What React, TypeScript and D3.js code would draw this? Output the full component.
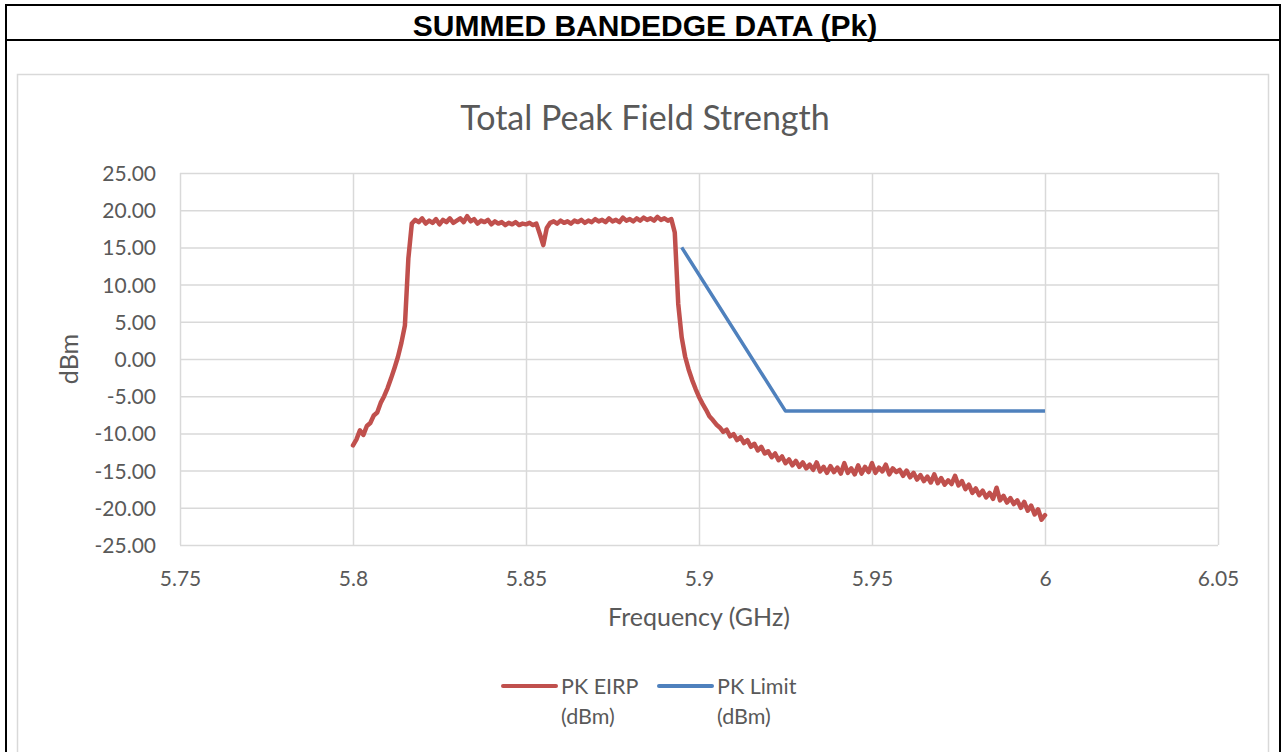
import React, { useEffect, useRef } from 'react';
import * as d3 from 'd3';

// PK EIRP trace, every 1 MHz from 5.800 GHz to 6.000 GHz
const eirpStartGHz = 5.8;
const eirpStepGHz = 0.001;
const eirpDbm = [
  -11.6, -10.8, -9.6, -10.2, -9.0, -8.6, -7.6, -7.2, -5.9, -5.0, // 5.800
  -3.9, -2.6, -1.2, 0.3, 2.2, 4.5, 13.5, 18.2, 18.7, 18.4, // 5.810
  18.9, 18.2, 18.6, 18.3, 18.8, 18.1, 18.7, 18.4, 18.9, 18.3, // 5.820
  18.6, 18.9, 18.4, 19.2, 18.5, 18.8, 18.2, 18.6, 18.4, 18.7, // 5.830
  18.1, 18.5, 18.2, 18.4, 18.0, 18.3, 18.1, 18.4, 18.0, 18.2, // 5.840
  18.1, 18.3, 18.0, 18.2, 16.8, 15.3, 17.6, 18.3, 18.5, 18.2, // 5.850
  18.6, 18.3, 18.5, 18.2, 18.6, 18.4, 18.7, 18.3, 18.6, 18.4, // 5.860
  18.8, 18.5, 18.7, 18.4, 18.9, 18.5, 18.7, 18.4, 19.0, 18.6, // 5.870
  18.8, 18.5, 18.9, 18.6, 19.0, 18.7, 18.9, 18.6, 19.1, 18.7, // 5.880
  18.9, 18.6, 18.8, 17.0, 7.4, 2.9, 0.3, -1.4, -2.8, -4.0, // 5.890
  -5.1, -6.0, -6.8, -7.7, -8.2, -8.8, -9.2, -9.8, -9.5, -10.4, // 5.900
  -10.1, -10.9, -10.5, -11.3, -10.9, -11.8, -11.4, -12.3, -11.8, -12.7, // 5.910
  -12.4, -13.2, -12.7, -13.6, -13.1, -14.0, -13.5, -14.3, -13.7, -14.5, // 5.920
  -13.9, -14.7, -14.2, -14.9, -13.9, -15.1, -14.5, -15.3, -14.4, -15.2, // 5.930
  -14.6, -15.4, -14.0, -15.3, -14.7, -15.5, -14.3, -15.4, -14.5, -15.2, // 5.940
  -14.0, -15.3, -14.6, -15.1, -14.2, -15.5, -14.7, -15.2, -14.9, -15.7, // 5.950
  -15.0, -15.9, -15.3, -16.2, -15.6, -16.4, -15.8, -16.6, -15.5, -16.7, // 5.960
  -16.0, -16.9, -16.3, -16.8, -15.7, -17.0, -16.4, -17.5, -16.9, -18.0, // 5.970
  -17.4, -18.3, -17.7, -18.6, -18.0, -18.8, -17.3, -19.0, -18.4, -19.3, // 5.980
  -18.7, -19.5, -19.0, -20.0, -19.2, -20.4, -19.7, -20.9, -20.2, -21.6, // 5.990
  -21.0, // 6.000
];

// PK Limit corner points
const limitGHz = [5.895, 5.925, 6.0];
const limitDbm = [15, -7, -7];

const xTicks = [5.75, 5.8, 5.85, 5.9, 5.95, 6, 6.05];
const yTicks = [-25, -20, -15, -10, -5, 0, 5, 10, 15, 20, 25];
const seriesNames = [['PK EIRP', '(dBm)'], ['PK Limit', '(dBm)']];

const W = 1283;
const H = 752;
const plot = { left: 180, right: 1218, top: 173, bottom: 545 };
const colors = ['#C0504D', '#4F81BD'];
const textGray = '#595959';
const gridGray = '#d9d9d9';
const font = 'Lato, "Open Sans", sans-serif';

const App: React.FC = () => {
  const ref = useRef<SVGSVGElement>(null);

  useEffect(() => {
    const svg = d3.select(ref.current);
    svg.selectAll('*').remove();

    svg.append('rect').attr('width', W).attr('height', H).attr('fill', '#fff');

    // header cell
    svg.append('text')
      .attr('x', 645)
      .attr('y', 36)
      .attr('text-anchor', 'middle')
      .attr('font-family', '"Liberation Sans", Arial, sans-serif')
      .attr('font-weight', 'bold')
      .attr('font-size', 30)
      .attr('fill', '#000')
      .text('SUMMED BANDEDGE DATA (Pk)');

    // chart frame
    svg.append('rect')
      .attr('x', 17.5)
      .attr('y', 74.5)
      .attr('width', 1251)
      .attr('height', 720)
      .attr('fill', '#fff')
      .attr('stroke', gridGray)
      .attr('stroke-width', 1.5);

    // table borders
    const border = svg.append('g').attr('stroke', '#000').attr('stroke-width', 2);
    border.append('line').attr('x1', 5).attr('x2', 1281).attr('y1', 5).attr('y2', 5);
    border.append('line').attr('x1', 5).attr('x2', 1281).attr('y1', 40).attr('y2', 40);
    border.append('line').attr('x1', 6).attr('x2', 6).attr('y1', 4).attr('y2', H);
    border.append('line').attr('x1', 1280).attr('x2', 1280).attr('y1', 4).attr('y2', H);

    const x = d3.scaleLinear().domain([5.75, 6.05]).range([plot.left, plot.right]);
    const y = d3.scaleLinear().domain([-25, 25]).range([plot.bottom, plot.top]);

    // y axis + horizontal grid
    const gy = svg.append('g')
      .attr('transform', `translate(${plot.left},0)`)
      .call(
        d3.axisLeft(y)
          .tickValues(yTicks)
          .tickSize(-(plot.right - plot.left))
          .tickPadding(24)
          .tickFormat(d => (+d).toFixed(2))
      );
    gy.select('.domain').remove();
    gy.selectAll('.tick line').attr('stroke', gridGray).attr('stroke-width', 1.5);
    gy.selectAll('.tick text')
      .attr('fill', textGray)
      .attr('font-family', font)
      .attr('font-size', 21)
      .attr('dy', '0.36em');

    // x axis + vertical grid
    const gx = svg.append('g')
      .attr('transform', `translate(0,${plot.bottom})`)
      .call(
        d3.axisBottom(x)
          .tickValues(xTicks)
          .tickSize(-(plot.bottom - plot.top))
          .tickFormat(d => String(+d))
      );
    gx.select('.domain').remove();
    gx.selectAll('.tick line').attr('stroke', gridGray).attr('stroke-width', 1.5);
    gx.selectAll('.tick text')
      .attr('fill', textGray)
      .attr('font-family', font)
      .attr('font-size', 21)
      .attr('y', 33)
      .attr('dy', '0.36em');

    // title
    svg.append('text')
      .attr('x', 645)
      .attr('y', 118)
      .attr('dy', '0.36em')
      .attr('text-anchor', 'middle')
      .attr('font-family', font)
      .attr('font-size', 34)
      .attr('fill', textGray)
      .text('Total Peak Field Strength');

    // axis titles
    svg.append('text')
      .attr('x', (plot.left + plot.right) / 2)
      .attr('y', 617)
      .attr('dy', '0.36em')
      .attr('text-anchor', 'middle')
      .attr('font-family', font)
      .attr('font-size', 25)
      .attr('fill', textGray)
      .text('Frequency (GHz)');

    svg.append('text')
      .attr('transform', `translate(69,${(plot.top + plot.bottom) / 2}) rotate(-90)`)
      .attr('dy', '0.36em')
      .attr('text-anchor', 'middle')
      .attr('font-family', font)
      .attr('font-size', 25)
      .attr('fill', textGray)
      .text('dBm');

    // series
    const eirp = eirpDbm.map((v, i) => ({ f: eirpStartGHz + i * eirpStepGHz, v }));
    const limit = limitGHz.map((f, i) => ({ f, v: limitDbm[i] }));
    const line = d3.line<{ f: number; v: number }>()
      .x(d => x(d.f))
      .y(d => y(d.v));

    svg.append('path')
      .datum(eirp)
      .attr('fill', 'none')
      .attr('stroke', colors[0])
      .attr('stroke-width', 4.5)
      .attr('stroke-linejoin', 'round')
      .attr('stroke-linecap', 'round')
      .attr('d', line);

    svg.append('path')
      .datum(limit)
      .attr('fill', 'none')
      .attr('stroke', colors[1])
      .attr('stroke-width', 3.5)
      .attr('stroke-linejoin', 'round')
      .attr('d', line);

    // legend
    const legendX = [503, 659];
    seriesNames.forEach((lines, i) => {
      const g = svg.append('g').attr('transform', `translate(${legendX[i]},686)`);
      g.append('line')
        .attr('x1', 0).attr('x2', 53)
        .attr('stroke', colors[i])
        .attr('stroke-width', 4)
        .attr('stroke-linecap', 'round');
      lines.forEach((t, j) => {
        g.append('text')
          .attr('x', 58)
          .attr('y', j * 30)
          .attr('dy', '0.36em')
          .attr('font-family', font)
          .attr('font-size', 21.5)
          .attr('fill', textGray)
          .text(t);
      });
    });
  }, []);

  return (
    <svg
      ref={ref}
      width={W}
      height={H}
      style={{ position: 'absolute', left: 0, top: 0 }}
    />
  );
};

export default App;
